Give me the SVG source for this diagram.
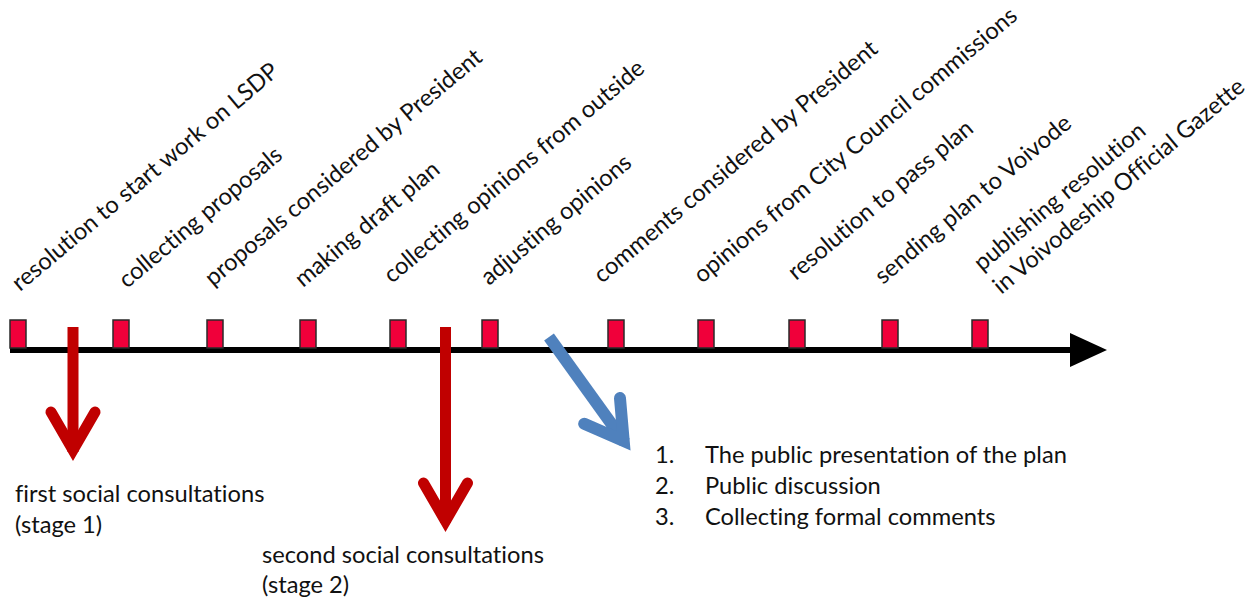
<svg xmlns="http://www.w3.org/2000/svg" width="1259" height="599" viewBox="0 0 1259 599">
<style>
text{font-family:Lato,"Open Sans","Liberation Sans",sans-serif;font-size:23.7px;fill:#111;font-variant-ligatures:none;font-feature-settings:"liga" 0}
.mk{fill:#F0003A;stroke:#2a2a2a;stroke-width:1.5}
.shaft{stroke-linecap:butt;fill:none}
.head{stroke-linecap:round;stroke-linejoin:miter;stroke-miterlimit:10;fill:none}
.red{stroke:#C00000;stroke-width:11}
.blue{stroke:#4F81BD;stroke-width:12}
</style>
<rect width="1259" height="599" fill="#fff"/>
<g id="connectors">
<line x1="10" y1="350" x2="1074" y2="350" stroke="#000" stroke-width="6"/>
<polygon points="1070,333 1107,350 1070,367" fill="#000"/>
<g id="arrow-stage1" class="red">
<line class="shaft" x1="73" y1="327" x2="73" y2="452"/>
<polyline class="head" points="51,412 73,450 95,412"/>
</g>
<g id="arrow-stage2" class="red">
<line class="shaft" x1="445.5" y1="327" x2="445.5" y2="523"/>
<polyline class="head" points="423.5,483 445.5,521 467.5,483"/>
</g>
<g id="arrow-public" class="blue" transform="translate(549,337) rotate(-35.7)">
<line class="shaft" x1="0" y1="0" x2="0" y2="130"/>
<polyline class="head" points="-22,91 0,128 22,91"/>
</g>
</g>
<g id="step1"><rect class="mk" x="10" y="320" width="16" height="28"/><text transform="translate(20,292) rotate(-40)">resolution to start work on LSDP</text></g>
<g id="step2"><rect class="mk" x="113" y="320" width="16" height="28"/><text transform="translate(127,289) rotate(-40)">collecting proposals</text></g>
<g id="step3"><rect class="mk" x="207" y="320" width="16" height="28"/><text transform="translate(213,287) rotate(-40)">proposals considered by President</text></g>
<g id="step4"><rect class="mk" x="300" y="320" width="16" height="28"/><text transform="translate(303,288) rotate(-40)">making draft plan</text></g>
<g id="step5"><rect class="mk" x="390" y="320" width="16" height="28"/><text transform="translate(392,284) rotate(-40)">collecting opinions from outside</text></g>
<g id="step6"><rect class="mk" x="482" y="320" width="16" height="28"/><text transform="translate(489,286) rotate(-40)">adjusting opinions</text></g>
<g id="step7"><rect class="mk" x="608" y="320" width="16" height="28"/><text transform="translate(602,284) rotate(-40)">comments considered by President</text></g>
<g id="step8"><rect class="mk" x="698" y="320" width="16" height="28"/><text transform="translate(702,284) rotate(-40)">opinions from City Council commissions</text></g>
<g id="step9"><rect class="mk" x="789" y="320" width="16" height="28"/><text transform="translate(796,281) rotate(-40)">resolution to pass plan</text></g>
<g id="step10"><rect class="mk" x="882" y="320" width="16" height="28"/><text transform="translate(883,285) rotate(-40)">sending plan to Voivode</text></g>
<g id="step11"><rect class="mk" x="972" y="320" width="16" height="28"/><text transform="translate(982,272) rotate(-40)"><tspan x="0" y="0">publishing resolution</tspan><tspan x="0" y="30">in Voivodeship Official Gazette</tspan></text></g>
<g id="note-stage1"><text x="15" y="502">first social consultations</text><text x="15" y="533">(stage 1)</text></g>
<g id="note-stage2"><text x="262" y="563">second social consultations</text><text x="262" y="593">(stage 2)</text></g>
<g id="note-public">
<text x="655" y="463">1.</text><text x="705" y="463">The public presentation of the plan</text>
<text x="655" y="494">2.</text><text x="705" y="494">Public discussion</text>
<text x="655" y="525">3.</text><text x="705" y="525">Collecting formal comments</text>
</g>
</svg>
